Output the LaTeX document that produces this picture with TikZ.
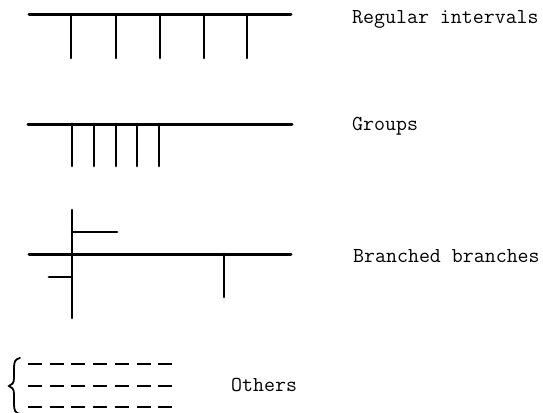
\documentclass[tikz,border=0pt]{standalone}
\usepackage{fontspec}
\begin{document}
\begin{tikzpicture}[x=1pt,y=-1pt,
  stem/.style={line width=3pt,line cap=round},
  twig/.style={line width=2.8pt,line cap=round},
  dashrow/.style={line width=2.4pt,dash pattern=on 14pt off 7.7pt},
  bracket/.style={line width=1.8pt,line cap=round},
  caption/.style={inner sep=0pt,anchor=base west,
    font=\ttfamily\fontsize{21.3}{25}\selectfont}]
\useasboundingbox (0,0) rectangle (543,412);

% Regular intervals: evenly spaced side branches
\draw[stem] (29,15) -- (291,15);
\foreach \x in {71,116,160,204,247}
  \draw[twig] (\x,15) -- (\x,58);
\node[caption] (regular) at (352,24) {Regular intervals};

% Groups: branches bunched together
\draw[stem] (28,124) -- (292,124);
\foreach \x in {72,94,116,137,159}
  \draw[twig] (\x,124) -- (\x,166);
\node[caption] (groups) at (352,130) {Groups};

% Branched branches: a crossing branch carrying branches of its own
\draw[stem] (29,254) -- (291,254);
\draw[twig] (72,210) -- (72,318);
\draw[twig] (72,232) -- (117,232);
\draw[twig] (49,277) -- (72,277);
\draw[twig] (224,254) -- (224,297);
\node[caption] (branched) at (353,262) {Branched branches};

% Others: placeholder rows
\foreach \y in {364,386,407}
  \draw[dashrow] (28,\y) -- (174,\y);
\draw[bracket] (20,358) .. controls (15,359) and (14,362) .. (14,368)
  -- (14,378) .. controls (14,383) and (12,385) .. (9,386)
  .. controls (12,387) and (14,389) .. (14,394)
  -- (14,404) .. controls (14,410) and (15,413) .. (20,414);
\node[caption] (others) at (231,391) {Others};
\end{tikzpicture}
\end{document}
